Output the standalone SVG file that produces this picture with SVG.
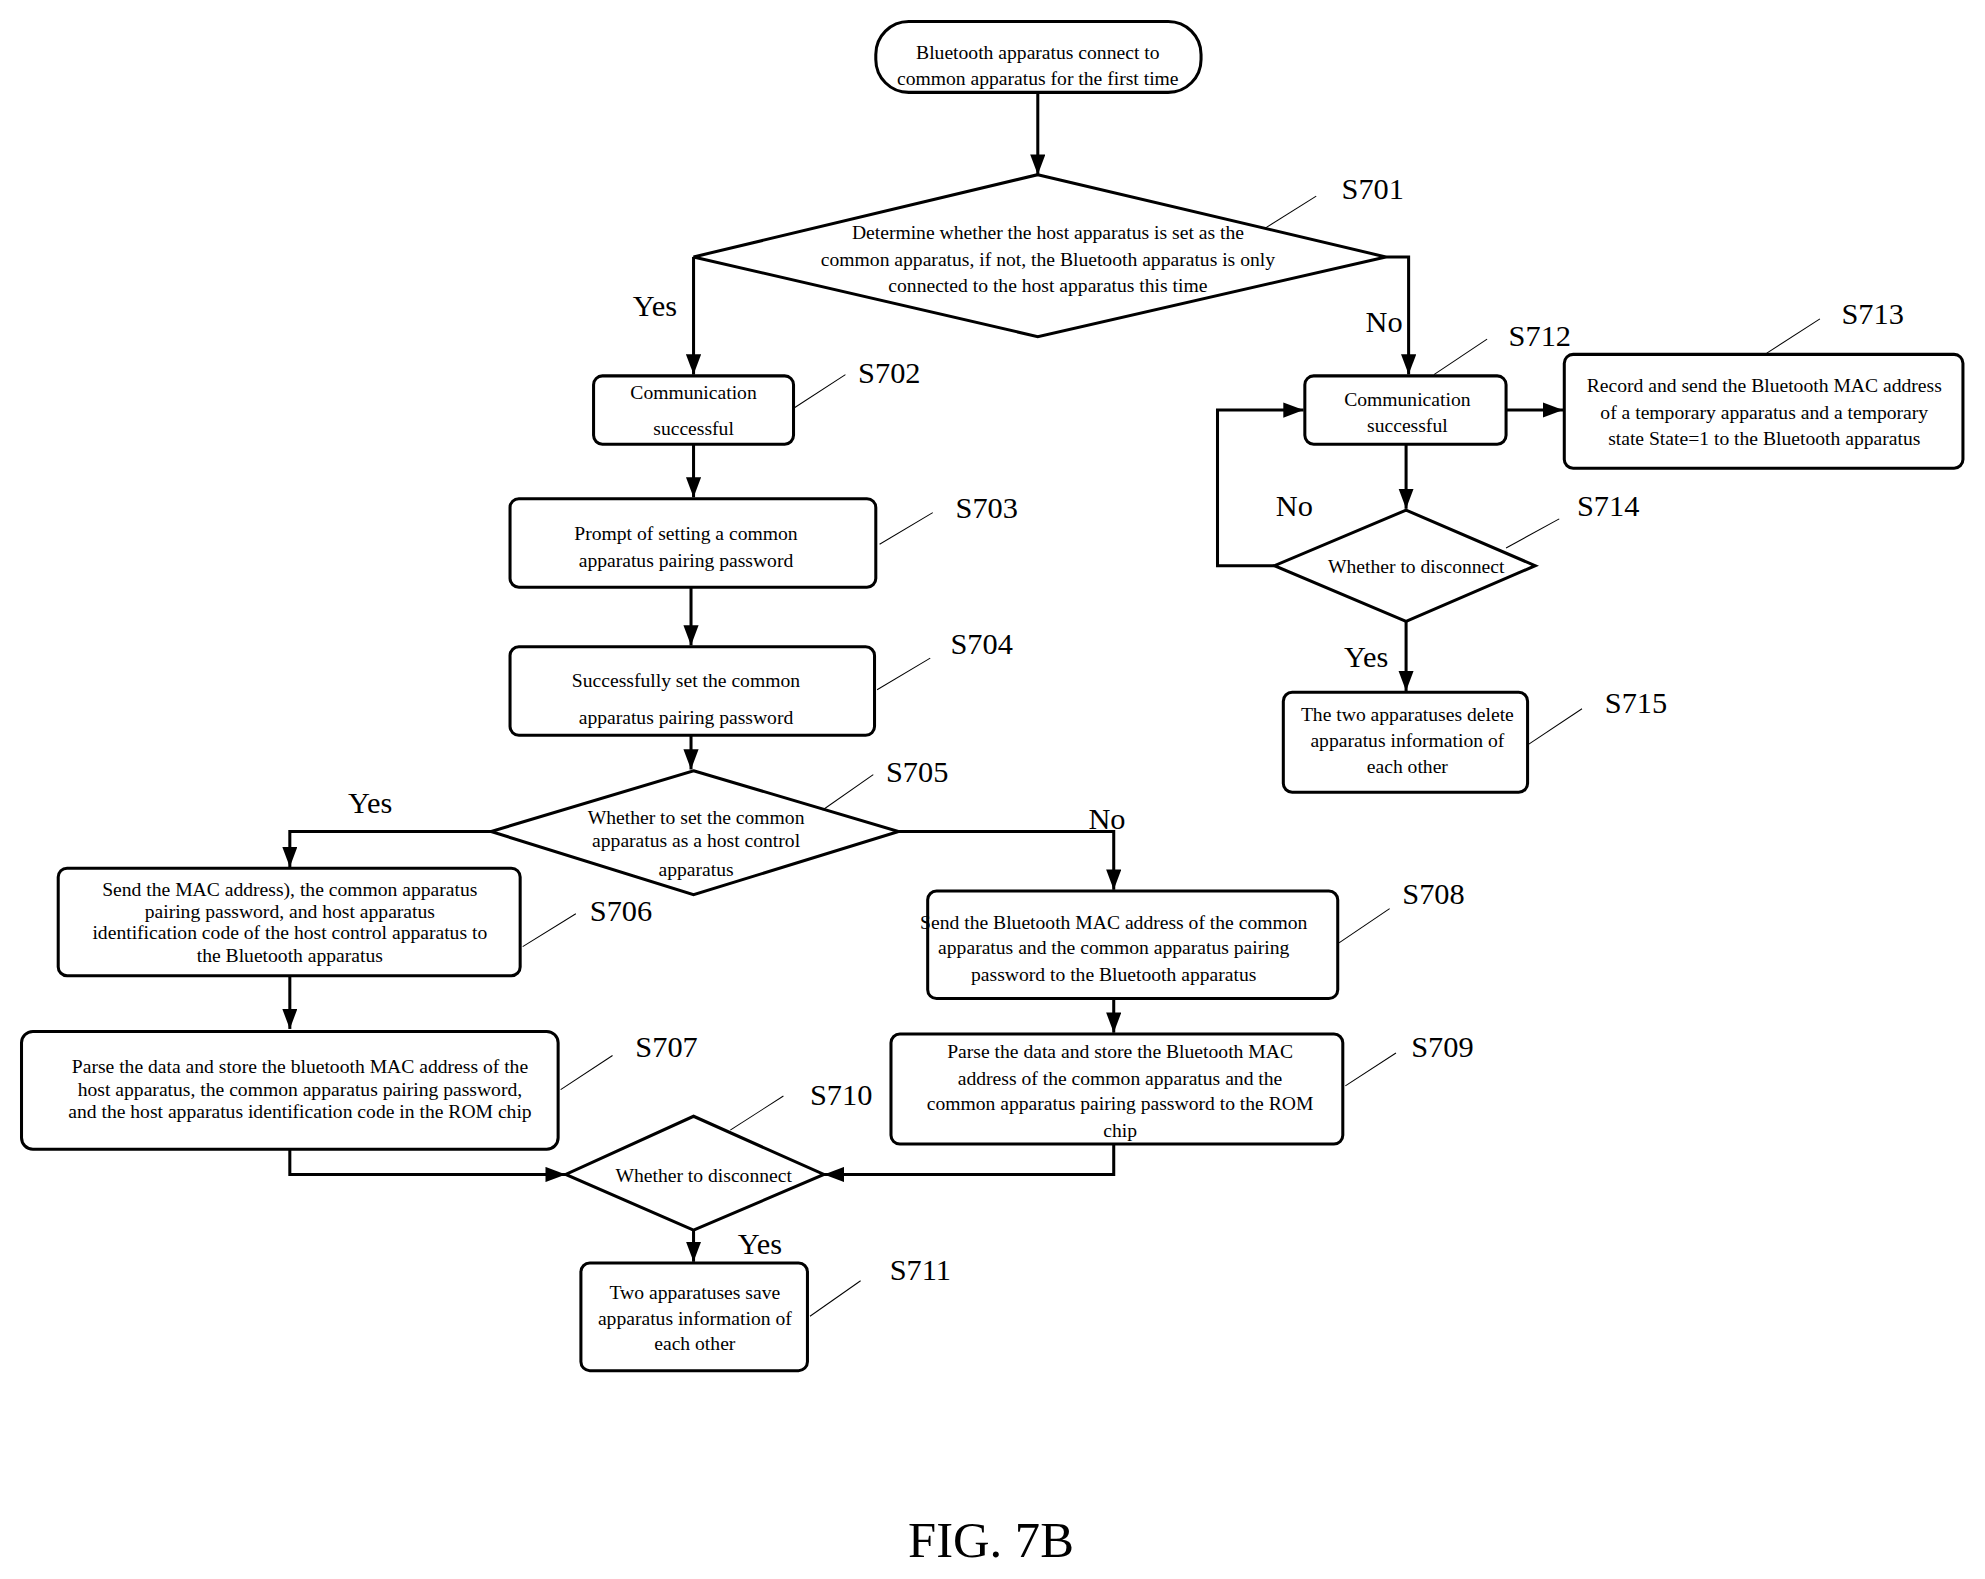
<svg xmlns="http://www.w3.org/2000/svg" width="1985" height="1579" viewBox="0 0 1985 1579">
<style>
.b{fill:#fff;stroke:#000;stroke-width:2.4}
.t{font-family:"Liberation Serif",serif;font-size:15.5px;text-anchor:middle;fill:#000}
.l{font-family:"Liberation Serif",serif;font-size:24px;fill:#000}
.c{fill:none;stroke:#000;stroke-width:2.4}
.d{fill:none;stroke:#000;stroke-width:0.8}
</style>
<defs><marker id="a" markerUnits="userSpaceOnUse" markerWidth="16" markerHeight="12" refX="16" refY="6" orient="auto"><path d="M0,0L16,6L0,12z" fill="#000"/></marker></defs>
<rect width="1985" height="1579" fill="#fff"/>
<g transform="scale(1.2656)">
<g id="connectors">
<path class="c" marker-end="url(#a)" d="M820,73V138"/>
<path class="c" marker-end="url(#a)" d="M548,203V296"/>
<path class="c" marker-end="url(#a)" d="M1095,203H1113V296"/>
<path class="c" marker-end="url(#a)" d="M548,351V393"/>
<path class="c" marker-end="url(#a)" d="M546,464V510"/>
<path class="c" marker-end="url(#a)" d="M546,581V608"/>
<path class="c" marker-end="url(#a)" d="M388,657H229V685"/>
<path class="c" marker-end="url(#a)" d="M710,657H880V703"/>
<path class="c" marker-end="url(#a)" d="M229,771V813"/>
<path class="c" marker-end="url(#a)" d="M880,789V816"/>
<path class="c" marker-end="url(#a)" d="M229,908V928H447"/>
<path class="c" marker-end="url(#a)" d="M880,904V928H651"/>
<path class="c" marker-end="url(#a)" d="M548,972V997"/>
<path class="c" marker-end="url(#a)" d="M1190,324H1235"/>
<path class="c" marker-end="url(#a)" d="M1111,351V402"/>
<path class="c" marker-end="url(#a)" d="M1007,447H962V324H1030"/>
<path class="c" marker-end="url(#a)" d="M1111,491V546"/>
<text class="l" x="500" y="250">Yes</text>
<text class="l" x="1079" y="262">No</text>
<text class="l" x="275" y="642">Yes</text>
<text class="l" x="860" y="655">No</text>
<text class="l" x="583" y="991">Yes</text>
<text class="l" x="1008" y="408">No</text>
<text class="l" x="1062" y="527">Yes</text>
</g>
<g id="start"><rect class="b" x="692" y="17" width="257" height="56" rx="26"/><text class="t" x="820" y="47">Bluetooth apparatus connect to</text><text class="t" x="820" y="67">common apparatus for the first time</text></g>
<g id="S701"><path class="b" d="M820,138L1095,203L820,266L548,203z"/><text class="t" x="828" y="189">Determine whether the host apparatus is set as the</text><text class="t" x="828" y="210">common apparatus, if not, the Bluetooth apparatus is only</text><text class="t" x="828" y="231">connected to the host apparatus this time</text><path class="d" d="M1000,180L1040,155"/><text class="l" x="1060" y="157">S701</text></g>
<g id="S702"><rect class="b" x="469" y="297" width="158" height="54" rx="7"/><text class="t" x="548" y="315">Communication</text><text class="t" x="548" y="344">successful</text><path class="d" d="M628,322L668,296"/><text class="l" x="678" y="303">S702</text></g>
<g id="S703"><rect class="b" x="403" y="394" width="289" height="70" rx="7"/><text class="t" x="542" y="427">Prompt of setting a common</text><text class="t" x="542" y="448">apparatus pairing password</text><path class="d" d="M695,430L737,405"/><text class="l" x="755" y="409">S703</text></g>
<g id="S704"><rect class="b" x="403" y="511" width="288" height="70" rx="7"/><text class="t" x="542" y="543">Successfully set the common</text><text class="t" x="542" y="572">apparatus pairing password</text><path class="d" d="M693,545L735,520"/><text class="l" x="751" y="517">S704</text></g>
<g id="S705"><path class="b" d="M548,609L710,657L548,707L388,657z"/><text class="t" x="550" y="651">Whether to set the common</text><text class="t" x="550" y="669">apparatus as a host control</text><text class="t" x="550" y="692">apparatus</text><path class="d" d="M650,640L690,612"/><text class="l" x="700" y="618">S705</text></g>
<g id="S706"><rect class="b" x="46" y="686" width="365" height="85" rx="7"/><text class="t" x="229" y="708">Send the MAC address), the common apparatus</text><text class="t" x="229" y="725">pairing password, and host apparatus</text><text class="t" x="229" y="742">identification code of the host control apparatus to</text><text class="t" x="229" y="760">the Bluetooth apparatus</text><path class="d" d="M413,748L455,722"/><text class="l" x="466" y="728">S706</text></g>
<g id="S707"><rect class="b" x="17" y="815" width="424" height="93" rx="9"/><text class="t" x="237" y="848">Parse the data and store the bluetooth MAC address of the</text><text class="t" x="237" y="866">host apparatus, the common apparatus pairing password,</text><text class="t" x="237" y="883">and the host apparatus identification code in the ROM chip</text><path class="d" d="M443,861L484,834"/><text class="l" x="502" y="835">S707</text></g>
<g id="S708"><rect class="b" x="733" y="704" width="324" height="85" rx="7"/><text class="t" x="880" y="734">Send the Bluetooth MAC address of the common</text><text class="t" x="880" y="754">apparatus and the common apparatus pairing</text><text class="t" x="880" y="775">password to the Bluetooth apparatus</text><path class="d" d="M1058,745L1098,718"/><text class="l" x="1108" y="714">S708</text></g>
<g id="S709"><rect class="b" x="704" y="817" width="357" height="87" rx="7"/><text class="t" x="885" y="836">Parse the data and store the Bluetooth MAC</text><text class="t" x="885" y="857">address of the common apparatus and the</text><text class="t" x="885" y="877">common apparatus pairing password to the ROM</text><text class="t" x="885" y="898">chip</text><path class="d" d="M1063,858L1103,832"/><text class="l" x="1115" y="835">S709</text></g>
<g id="S710"><path class="b" d="M548,882L651,928L548,972L447,928z"/><text class="t" x="556" y="934">Whether to disconnect</text><path class="d" d="M577,893L619,866"/><text class="l" x="640" y="873">S710</text></g>
<g id="S711"><rect class="b" x="459" y="998" width="179" height="85" rx="7"/><text class="t" x="549" y="1026">Two apparatuses save</text><text class="t" x="549" y="1047">apparatus information of</text><text class="t" x="549" y="1067">each other</text><path class="d" d="M640,1040L680,1012"/><text class="l" x="703" y="1011">S711</text></g>
<g id="S712"><rect class="b" x="1031" y="297" width="159" height="54" rx="7"/><text class="t" x="1112" y="321">Communication</text><text class="t" x="1112" y="341">successful</text><path class="d" d="M1133,296L1175,268"/><text class="l" x="1192" y="273">S712</text></g>
<g id="S713"><rect class="b" x="1236" y="280" width="315" height="90" rx="7"/><text class="t" x="1394" y="310">Record and send the Bluetooth MAC address</text><text class="t" x="1394" y="331">of a temporary apparatus and a temporary</text><text class="t" x="1394" y="352">state State=1 to the Bluetooth apparatus</text><path class="d" d="M1396,279L1438,252"/><text class="l" x="1455" y="256">S713</text></g>
<g id="S714"><path class="b" d="M1111,403L1213,447L1111,491L1007,447z"/><text class="t" x="1119" y="453">Whether to disconnect</text><path class="d" d="M1190,433L1232,410"/><text class="l" x="1246" y="408">S714</text></g>
<g id="S715"><rect class="b" x="1014" y="547" width="193" height="79" rx="7"/><text class="t" x="1112" y="570">The two apparatuses delete</text><text class="t" x="1112" y="590">apparatus information of</text><text class="t" x="1112" y="611">each other</text><path class="d" d="M1208,588L1250,560"/><text class="l" x="1268" y="563">S715</text></g>
<text x="783" y="1230" font-family="Liberation Serif,serif" font-size="40" text-anchor="middle">FIG. 7B</text>
</g>
</svg>
